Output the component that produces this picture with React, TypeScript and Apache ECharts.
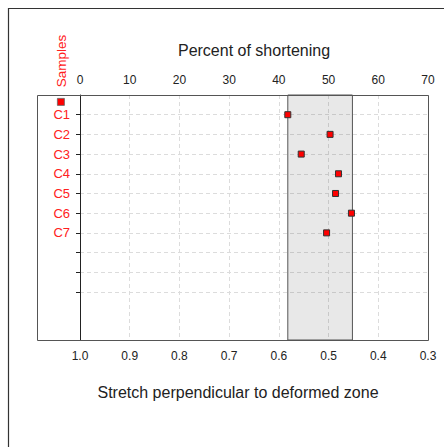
import React, { useEffect, useRef } from "react";
import * as echarts from "echarts";

const samples = ["C1", "C2", "C3", "C4", "C5", "C6", "C7"];
const shortening = [41.8, 50.3, 44.5, 52.0, 51.4, 54.6, 49.6];
const rowTicks = [1, 2, 3, 4, 5, 6, 7, 8, 9, 10];
const labelRows = [1, 2, 3, 4, 5, 6, 7];
const percentTicks = [0, 10, 20, 30, 40, 50, 60, 70];
const stretchTicks = [1.0, 0.9, 0.8, 0.7, 0.6, 0.5, 0.4, 0.3];
const bandRange = [41.8, 54.8];

export default function App() {
  const ref = useRef<HTMLDivElement>(null);
  useEffect(() => {
    if (!ref.current) return;
    const chart = echarts.init(ref.current, undefined, { renderer: "svg" });
    const font = "Arial, 'Liberation Sans', sans-serif";
    chart.setOption({
      animation: false,
      textStyle: { fontFamily: font },
      legend: {
        data: ["Samples"],
        left: 57,
        top: 98,
        itemWidth: 7,
        itemHeight: 7,
        icon: "rect",
        formatter: () => "",
        padding: 0,
        itemStyle: { color: "#ff0000", borderColor: "#666", borderWidth: 0.8 },
      },
      grid: { left: 80, right: 16, top: 95, bottom: 107, containLabel: false },
      xAxis: [
        {
          type: "value",
          position: "top",
          min: 0,
          max: 70,
          name: "Percent of shortening",
          nameLocation: "middle",
          nameGap: 37,
          nameTextStyle: { fontSize: 16, color: "#222", fontFamily: font },
          axisLine: { show: false },
          axisTick: { show: false, customValues: percentTicks },
          axisLabel: {
            customValues: percentTicks,
            fontSize: 12,
            color: "#222",
            margin: 9,
            fontFamily: font,
          },
          splitLine: { show: true, lineStyle: { color: "#dcdcdc", type: [4, 3], width: 1 } },
        },
        {
          type: "value",
          position: "bottom",
          min: 0.3,
          max: 1.0,
          inverse: true,
          axisLine: { show: false },
          axisTick: { show: false, customValues: stretchTicks },
          axisLabel: {
            customValues: stretchTicks,
            formatter: (v: number) => v.toFixed(1),
            fontSize: 12,
            color: "#222",
            margin: 10,
            fontFamily: font,
          },
          splitLine: { show: false },
        },
      ],
      yAxis: {
        type: "value",
        inverse: true,
        min: 0,
        max: 12.44,
        axisLine: { show: true, onZero: false, lineStyle: { color: "#222", width: 1 } },
        axisTick: { show: true, length: 4, customValues: rowTicks, lineStyle: { color: "#222" } },
        axisLabel: {
          customValues: labelRows,
          formatter: (v: number) => samples[v - 1] ?? "",
          color: "#ff2020",
          fontSize: 13,
          margin: 10,
          fontFamily: font,
        },
        splitLine: { show: true, lineStyle: { color: "#dcdcdc", type: [4, 3], width: 1 } },
      },
      series: [
        {
          name: "Samples",
          type: "scatter",
          xAxisIndex: 0,
          symbol: "rect",
          symbolSize: 6,
          itemStyle: { color: "#ff0000", borderColor: "#333", borderWidth: 1, opacity: 1 },
          data: shortening.map((v, i) => [v, i + 1]),
          markArea: {
            silent: true,
            itemStyle: {
              color: "rgba(0,0,0,0.09)",
              borderColor: "#555",
              borderWidth: 1,
            },
            data: [[{ xAxis: bandRange[0], yAxis: 0 }, { xAxis: bandRange[1], yAxis: 12.44 }]],
          },
          z: 3,
        },
      ],
      graphic: [
        {
          type: "rect",
          z: 100,
          shape: { x: 8.5, y: 8.5, width: 600, height: 600 },
          style: { fill: "none", stroke: "#333", lineWidth: 1.2 },
        },
        {
          type: "rect",
          z: 100,
          shape: { x: 37.5, y: 95.5, width: 391, height: 245 },
          style: { fill: "none", stroke: "#555", lineWidth: 1 },
        },
        {
          type: "text",
          z: 100,
          x: 61,
          y: 61,
          rotation: Math.PI / 2,
          style: {
            text: "Samples",
            fill: "#ff2020",
            fontSize: 13.5,
            fontFamily: font,
            align: "center",
            verticalAlign: "middle",
          },
        },
        {
          type: "text",
          z: 100,
          x: 238,
          y: 392,
          style: {
            text: "Stretch perpendicular to deformed zone",
            fill: "#222",
            fontSize: 16,
            fontFamily: font,
            align: "center",
            verticalAlign: "middle",
          },
        },
      ],
    });
    return () => chart.dispose();
  }, []);
  return (
    <div
      ref={ref}
      style={{ position: "fixed", left: 0, top: 0, width: 444, height: 447, background: "#fff" }}
    />
  );
}
